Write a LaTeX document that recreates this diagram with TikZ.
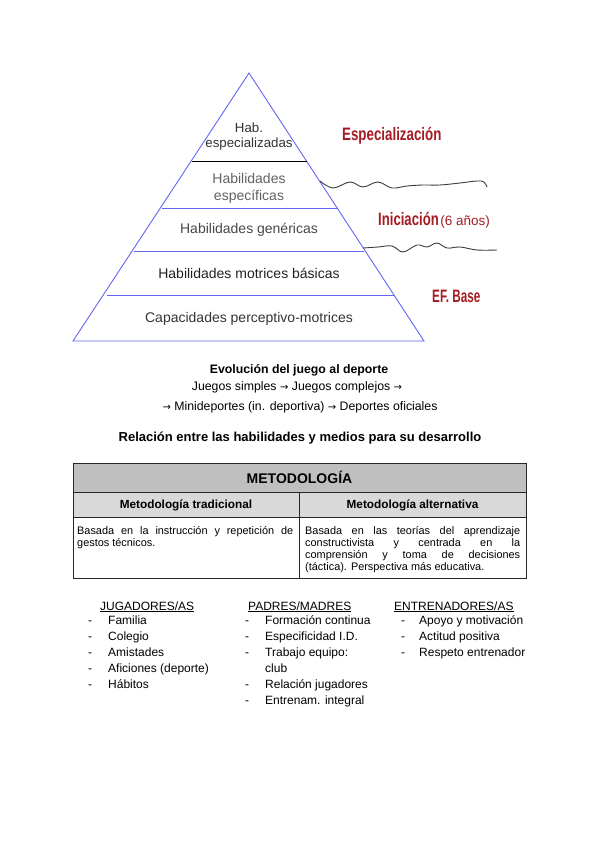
\documentclass[tikz,border=0pt]{standalone}
\usepackage{fontspec}
\setmainfont{Liberation Sans}
\newfontfamily\arrowfont{DejaVu Sans}
\usetikzlibrary{calc}
\definecolor{pyrblue}{HTML}{6464F5}
\definecolor{lblred}{HTML}{A51C24}
\definecolor{hdrgray}{HTML}{BFBFBF}
\definecolor{subgray}{HTML}{D9D9D9}
\definecolor{wavec}{HTML}{3A3A3A}
\tikzset{
  pyrline/.style={draw=pyrblue, line width=0.9pt},
  pyrtxt/.style={font=\fontsize{14}{16}\selectfont, inner sep=0pt, anchor=base},
  redlbl/.style={text=lblred, inner sep=0pt, anchor=base west},
  wave/.style={draw=wavec, line width=0.9pt},
  plain/.style={font=\fontsize{12.3}{14}\selectfont, inner sep=0pt, anchor=base},
  listtxt/.style={font=\fontsize{12}{14}\selectfont, inner sep=0pt, anchor=base west},
  tblline/.style={draw=black!85, line width=1pt},
  celltxt/.style={font=\fontsize{10.9}{12.3}\selectfont, inner sep=0pt, anchor=base west}
}
\newcommand{\redcond}[2]{\scalebox{#1}[1]{\fontsize{18}{19}\selectfont\bfseries #2}}
\newcommand{\arr}{{\arrowfont\fontsize{10}{12}\selectfont →}}
\begin{document}
\begin{tikzpicture}[x=1pt,y=-1pt]
\useasboundingbox (0,0) rectangle (600,848);
% pyramid
\coordinate (apex) at (249,73);
\coordinate (bl) at (73,341);
\coordinate (br) at (424,341);
\draw[pyrline] (bl) -- (apex) -- (br) -- cycle;
\draw[draw=black, line width=0.9pt] (192,161) -- (307,161);
\draw[pyrline] (162,208) -- (338,208);
\draw[pyrline] (134,251) -- (364,251);
\draw[pyrline] (107,295) -- (394,295);
% pyramid texts
\node[pyrtxt, text=black!80, font=\fontsize{13.3}{15}\selectfont] (t1a) at (249,132) {Hab.};
\node[pyrtxt, text=black!80, font=\fontsize{13.3}{15}\selectfont] (t1b) at (249,147) {especializadas};
\node[pyrtxt, text=black!62] (t2a) at (249,183) {Habilidades};
\node[pyrtxt, text=black!62] (t2b) at (249,200) {específicas};
\node[pyrtxt, text=black!72] (t3) at (249,233) {Habilidades genéricas};
\node[pyrtxt, text=black!88] (t4) at (249,278) {Habilidades motrices básicas};
\node[pyrtxt, text=black!80] (t5) at (249,322) {Capacidades perceptivo-motrices};
% wavy lines
\draw[wave] plot[smooth, tension=0.6] coordinates {(320,181) (333,188) (350,182) (363,187) (378,182) (392,188) (407,186) (423,185) (440,185) (460,183) (477,181) (484,182) (487,187)};
\draw[wave] plot[smooth, tension=0.6] coordinates {(363,248) (378,247) (392,246) (403,252) (417,245) (427,247) (437,243) (447,248) (460,247) (477,250) (497,250)};
% red labels
\node[redlbl] (esp) at (342,140) {\redcond{0.74}{Especialización}};
\node[redlbl] (ini) at (378,225) {\redcond{0.73}{Iniciación}\,{\fontsize{13.5}{14}\selectfont (6 años)}};
\node[redlbl] (efb) at (432,302) {\redcond{0.65}{EF. Base}};
% evolution text
\node[plain, font=\fontsize{12.3}{14}\selectfont\bfseries] (evo) at (299,373) {Evolución del juego al deporte};
\node[plain] (evo1) at (297,390) {Juegos simples \arr{} Juegos complejos \arr};
\node[plain] (evo2) at (300,410) {\arr{} Minideportes (in. deportiva) \arr{} Deportes oficiales};
\node[plain, font=\fontsize{13}{14}\selectfont\bfseries] (rel) at (300,441) {Relación entre las habilidades y medios para su desarrollo};
% table
\fill[hdrgray] (73,463) rectangle (526,492);
\fill[subgray] (73,492) rectangle (526,517);
\draw[tblline] (73,463) rectangle (526,578);
\draw[tblline] (73,492) -- (526,492);
\draw[tblline] (73,517) -- (526,517);
\draw[tblline] (299,492) -- (299,578);
\node[inner sep=0pt, anchor=base, font=\fontsize{14}{16}\selectfont\bfseries] (met) at (299.5,483) {METODOLOGÍA};
\node[inner sep=0pt, anchor=base, font=\fontsize{11.8}{13}\selectfont\bfseries] (mt) at (186,508.5) {Metodología tradicional};
\node[inner sep=0pt, anchor=base, font=\fontsize{11.8}{13}\selectfont\bfseries] (ma) at (412.5,508.5) {Metodología alternativa};
\node[celltxt] (cl1) at (77,534) {\makebox[216pt][s]{Basada en la instrucción y repetición de}};
\node[celltxt] (cl2) at (77,546.3) {gestos técnicos.};
\node[celltxt] (cr1) at (305,534) {\makebox[215pt][s]{Basada en las teorías del aprendizaje}};
\node[celltxt] (cr2) at (305,546.3) {\makebox[215pt][s]{constructivista y centrada en la}};
\node[celltxt] (cr3) at (305,558.6) {\makebox[215pt][s]{comprensión y toma de decisiones}};
\node[celltxt] (cr4) at (305,570.9) {(táctica). Perspectiva más educativa.};
% lists
\node[listtxt] (h1) at (100,610) {\underline{JUGADORES/AS}};
\node[listtxt] (h2) at (248,610) {\underline{PADRES/MADRES}};
\node[listtxt] (h3) at (394,610) {\underline{ENTRENADORES/AS}};
\foreach \y/\t [count=\i] in {624/Familia, 640/Colegio, 656/Amistades, 672/Aficiones (deporte), 688/Hábitos}{
  \node[listtxt] (jd\i) at (88,\y) {-};
  \node[listtxt] (j\i) at (108,\y) {\t};
}
\foreach \y/\t [count=\i] in {624/Formación continua, 640/Especificidad I.D., 656/Trabajo equipo:, 688/Relación jugadores, 704/Entrenam. integral}{
  \node[listtxt] (pd\i) at (245,\y) {-};
  \node[listtxt] (p\i) at (265,\y) {\t};
}
\node[listtxt] (pclub) at (265,672) {club};
\foreach \y/\t [count=\i] in {624/Apoyo y motivación, 640/Actitud positiva, 656/Respeto entrenador}{
  \node[listtxt] (ed\i) at (401,\y) {-};
  \node[listtxt] (e\i) at (419,\y) {\t};
}
\end{tikzpicture}
\end{document}
